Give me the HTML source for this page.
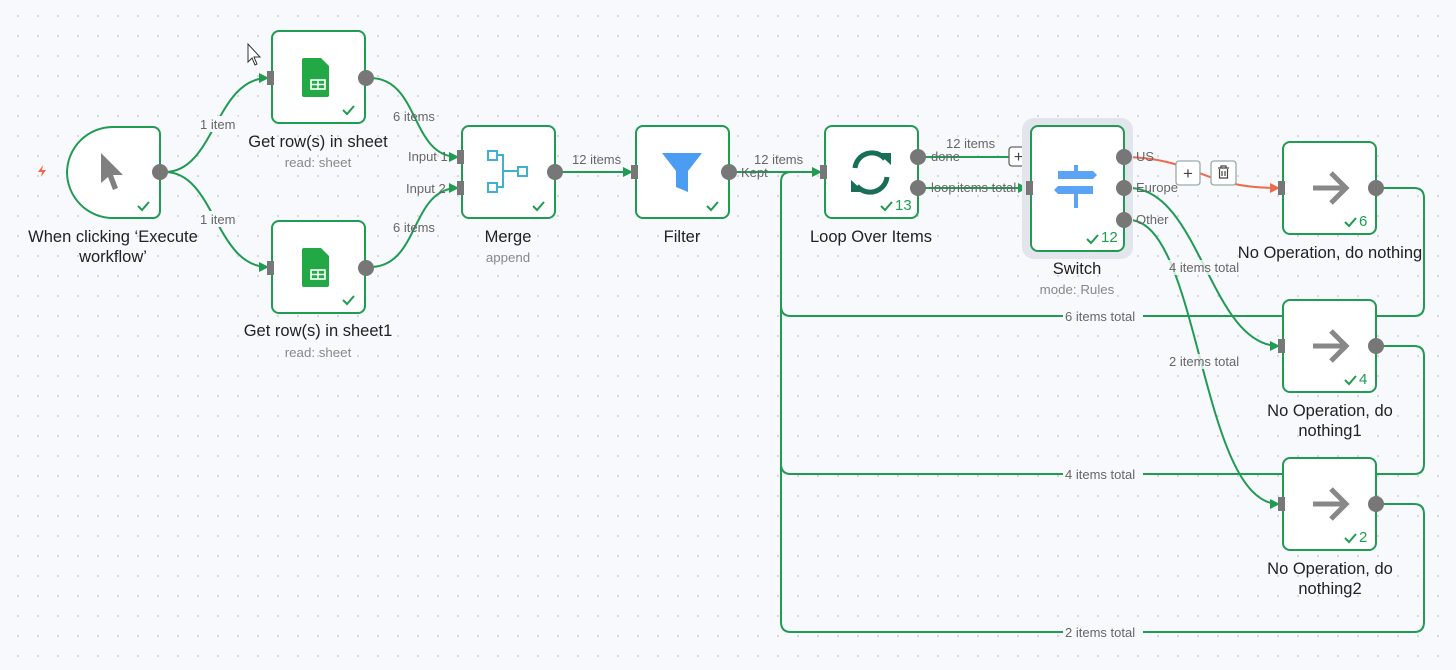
<!DOCTYPE html>
<html><head><meta charset="utf-8"><style>
html,body{margin:0;padding:0;}
body{width:1456px;height:670px;overflow:hidden;background:#f8f9fc;background-image:radial-gradient(circle,#d4d6de 1px,transparent 1.2px);background-size:20px 20px;background-position:8px 6px;font-family:"Liberation Sans",sans-serif;}
svg{position:absolute;left:0;top:0}
.nl{font-size:16.5px;fill:#222;text-anchor:middle}
.sl{font-size:13.3px;fill:#888;text-anchor:middle}
.el{font-size:13px;fill:#666;}
.e{fill:none;stroke:#1f9b52;stroke-width:2}
.box{fill:#fff;stroke:#1f9b52;stroke-width:2}
.port{fill:#777}
.ck{fill:none;stroke:#1f9b52;stroke-width:2}
.cnt{font-size:15px;fill:#1f9b52}
</style></head><body>
<svg width="1456" height="670" viewBox="0 0 1456 670">
<defs>
<marker id="ag" viewBox="0 0 10 10" refX="9" refY="5" markerWidth="10" markerHeight="10" markerUnits="userSpaceOnUse" orient="auto"><path d="M0,0 L10,5 L0,10z" fill="#1f9b52"/></marker>
<marker id="ar" viewBox="0 0 10 10" refX="9" refY="5" markerWidth="10" markerHeight="10" markerUnits="userSpaceOnUse" orient="auto"><path d="M0,0 L10,5 L0,10z" fill="#ee6a4c"/></marker>
</defs>
<path class="e" d="M165,172 C215,172 215,78 268,78" marker-end="url(#ag)"/>
<path class="e" d="M165,172 C215,172 215,267 268,267" marker-end="url(#ag)"/>
<path class="e" d="M370,78 C420,78 410,157 458,157" marker-end="url(#ag)"/>
<path class="e" d="M370,267 C420,267 410,188 458,188" marker-end="url(#ag)"/>
<path class="e" d="M560,172 L632,172" marker-end="url(#ag)"/>
<path class="e" d="M734,172 L821,172" marker-end="url(#ag)"/>
<path class="e" d="M923,157 L1010,157"/>
<path class="e" d="M923,188 L1027,188" marker-end="url(#ag)"/>
<path d="M1129,157 C1200,160 1200,188 1279,188" fill="none" stroke="#ee6a4c" stroke-width="2" marker-end="url(#ar)"/>
<path class="e" d="M1129,188 C1200,188 1210,346 1279,346" marker-end="url(#ag)"/>
<path class="e" d="M1129,220 C1200,220 1200,504 1279,504" marker-end="url(#ag)"/>
<path class="e" d="M1381,188 L1414,188 Q1424,188 1424,198 L1424,306 Q1424,316 1414,316 L791,316 Q781,316 781,306 L781,182 Q781,172 791,172"/>
<path class="e" d="M1381,346 L1414,346 Q1424,346 1424,356 L1424,464 Q1424,474 1414,474 L791,474 Q781,474 781,464 L781,300"/>
<path class="e" d="M1381,504 L1414,504 Q1424,504 1424,514 L1424,622 Q1424,632 1414,632 L791,632 Q781,632 781,622 L781,460"/>
<g class="el">
<rect x="198" y="116" width="40" height="16" fill="#f8f9fc"/><text x="200" y="129">1 item</text>
<rect x="198" y="211" width="40" height="16" fill="#f8f9fc"/><text x="200" y="224">1 item</text>
<text x="393" y="121">6 items</text><text x="393" y="232">6 items</text>
<text x="408" y="161">Input 1</text><text x="406" y="193">Input 2</text>
<text x="572" y="164">12 items</text><text x="754" y="164">12 items</text>
<text x="741" y="177">Kept</text>
<text x="946" y="148">12 items</text>
<text x="931" y="161">done</text><text x="931" y="192">loop</text><text x="957" y="192">items total</text>
<text x="1136" y="161">US</text><text x="1136" y="192">Europe</text><text x="1136" y="224">Other</text>
<rect x="1167" y="260" width="80" height="15" fill="#f8f9fc" opacity=".8"/><text x="1169" y="272">4 items total</text>
<rect x="1167" y="354" width="80" height="15" fill="#f8f9fc" opacity=".8"/><text x="1169" y="366">2 items total</text>
<rect x="1063" y="309" width="80" height="15" fill="#f8f9fc"/><text x="1065" y="321">6 items total</text>
<rect x="1063" y="467" width="80" height="15" fill="#f8f9fc"/><text x="1065" y="479">4 items total</text>
<rect x="1063" y="625" width="80" height="15" fill="#f8f9fc"/><text x="1065" y="637">2 items total</text>
</g>
<rect x="1009" y="147" width="19" height="19" rx="3" fill="#fff" stroke="#666" stroke-width="1.3"/><text x="1018.5" y="162" font-size="16" fill="#444" text-anchor="middle">+</text>
<rect x="1176" y="161" width="24" height="24" rx="3" fill="#fff" stroke="#9aa" stroke-width="1.3"/><text x="1188" y="179" font-size="17" fill="#444" text-anchor="middle">+</text>
<rect x="1211" y="161" width="25" height="24" rx="3" fill="#fff" stroke="#9aa" stroke-width="1.3"/>
<path d="M1218,168 h11 M1221,168 v-2 h5 v2 M1219.5,169 v9 h8 v-9 M1222,171 v5 M1225,171 v5" fill="none" stroke="#444" stroke-width="1.2"/>
<path d="M38,172 l5,-7 l-1,5 l4,0 l-5,7 l1,-5z" fill="#ee6a4c"/>
<path class="box" d="M113,127 H153 a7,7 0 0 1 7,7 V211 a7,7 0 0 1 -7,7 H113 a46,46 0 0 1 -46,-46 V173 a46,46 0 0 1 46,-46z"/>
<path d="M101,153 L101,183 L108,177 L113,190 L118,188 L113,175 L123,175z" fill="#808080"/>
<path class="ck" d="M138,206 l4,4 l7,-8"/>
<circle class="port" cx="160" cy="172" r="8"/>
<text class="nl" x="113" y="242">When clicking ‘Execute</text><text class="nl" x="113" y="262">workflow’</text>
<g>
<rect class="box" x="272" y="31" width="93" height="92" rx="7"/>
<path d="M304,58 h17 l8,8 v29 a2,2 0 0 1 -2,2 h-23 a2,2 0 0 1 -2,-2 v-35 a2,2 0 0 1 2,-2z" fill="#23a846"/>
<rect x="311" y="80" width="14" height="9" fill="none" stroke="#fff" stroke-width="1.6"/><path d="M311,84.5 h14 M318,80 v9" stroke="#fff" stroke-width="1.4"/>
<path class="ck" d="M343,110 l4,4 l7,-8"/>
<rect x="267" y="71" width="7" height="14" fill="#777"/><circle class="port" cx="366" cy="78" r="8"/>
<text class="nl" x="318" y="147">Get row(s) in sheet</text><text class="sl" x="318" y="167">read: sheet</text>
</g>
<g transform="translate(0,190)">
<rect class="box" x="272" y="31" width="93" height="92" rx="7"/>
<path d="M304,58 h17 l8,8 v29 a2,2 0 0 1 -2,2 h-23 a2,2 0 0 1 -2,-2 v-35 a2,2 0 0 1 2,-2z" fill="#23a846"/>
<rect x="311" y="80" width="14" height="9" fill="none" stroke="#fff" stroke-width="1.6"/><path d="M311,84.5 h14 M318,80 v9" stroke="#fff" stroke-width="1.4"/>
<path class="ck" d="M343,110 l4,4 l7,-8"/>
<rect x="267" y="71" width="7" height="14" fill="#777"/><circle class="port" cx="366" cy="78" r="8"/>
<text class="nl" x="318" y="146">Get row(s) in sheet1</text><text class="sl" x="318" y="167">read: sheet</text>
</g>
<rect class="box" x="462" y="126" width="93" height="92" rx="7"/>
<g fill="none" stroke="#3fb1cc" stroke-width="2"><rect x="488" y="151" width="9" height="9"/><rect x="488" y="183" width="9" height="9"/><rect x="518" y="167" width="9" height="9"/><path d="M497,155 h6 v16 h15 M497,187 h6 v-16"/></g>
<path class="ck" d="M533,206 l4,4 l7,-8"/>
<rect x="457" y="150" width="7" height="14" fill="#777"/><rect x="457" y="181" width="7" height="14" fill="#777"/><circle class="port" cx="555" cy="172" r="8"/>
<text class="nl" x="508" y="242">Merge</text><text class="sl" x="508" y="262">append</text>
<rect class="box" x="636" y="126" width="93" height="92" rx="7"/>
<path d="M662,153 h40 l-14,18 v21 l-12,-5 v-16z" fill="#4a9df2"/>
<path class="ck" d="M707,206 l4,4 l7,-8"/>
<rect x="631" y="165" width="7" height="14" fill="#777"/><circle class="port" cx="729" cy="172" r="8"/>
<text class="nl" x="682" y="242">Filter</text>
<rect class="box" x="825" y="126" width="93" height="92" rx="7"/>
<g fill="none" stroke="#186e56" stroke-width="5"><path d="M855,168 a17,17 0 0 1 30,-9"/><path d="M887,177 a17,17 0 0 1 -30,9"/></g>
<path d="M878,153 l13,0 l0,12z" fill="#186e56"/><path d="M864,192 l-13,0 l0,-12z" fill="#186e56"/>
<path class="ck" d="M881,206 l4,4 l7,-8"/><text class="cnt" x="895" y="210">13</text>
<rect x="820" y="165" width="7" height="14" fill="#777"/><circle class="port" cx="918" cy="157" r="8"/><circle class="port" cx="918" cy="188" r="8"/>
<text class="nl" x="871" y="242">Loop Over Items</text>
<rect x="1022" y="118" width="111" height="141" rx="12" fill="#e2e5ec"/>
<rect class="box" x="1031" y="126" width="93" height="125" rx="7"/>
<g fill="#5aa3f5"><path d="M1058,171 h35 l4,4 l-4,4 h-35z"/><path d="M1093,186 h-35 l-4,4 l4,4 h35z"/><rect x="1074" y="165" width="4" height="6"/><rect x="1074" y="194" width="4" height="14"/></g>
<path class="ck" d="M1087,239 l4,4 l7,-8"/><text class="cnt" x="1101" y="242">12</text>
<rect x="1026" y="181" width="7" height="14" fill="#777"/>
<circle class="port" cx="1124" cy="157" r="8"/><circle class="port" cx="1124" cy="188" r="8"/><circle class="port" cx="1124" cy="220" r="8"/>
<text class="nl" x="1077" y="274">Switch</text><text class="sl" x="1077" y="294">mode: Rules</text>
<g>
<rect class="box" x="1283" y="142" width="93" height="92" rx="7"/>
<path d="M1313,188 h32 M1331,173 l15,15 l-15,15" fill="none" stroke="#888" stroke-width="5"/>
<path class="ck" d="M1345,222 l4,4 l7,-8"/><text class="cnt" x="1359" y="226">6</text>
<rect x="1278" y="181" width="7" height="14" fill="#777"/><circle class="port" cx="1376" cy="188" r="8"/>
<text class="nl" x="1330" y="258">No Operation, do nothing</text>
</g>
<g>
<rect class="box" x="1283" y="300" width="93" height="92" rx="7"/>
<path d="M1313,346 h32 M1331,331 l15,15 l-15,15" fill="none" stroke="#888" stroke-width="5"/>
<path class="ck" d="M1345,380 l4,4 l7,-8"/><text class="cnt" x="1359" y="384">4</text>
<rect x="1278" y="339" width="7" height="14" fill="#777"/><circle class="port" cx="1376" cy="346" r="8"/>
<text class="nl" x="1330" y="416">No Operation, do</text><text class="nl" x="1330" y="436">nothing1</text>
</g>
<g>
<rect class="box" x="1283" y="458" width="93" height="92" rx="7"/>
<path d="M1313,504 h32 M1331,489 l15,15 l-15,15" fill="none" stroke="#888" stroke-width="5"/>
<path class="ck" d="M1345,538 l4,4 l7,-8"/><text class="cnt" x="1359" y="542">2</text>
<rect x="1278" y="497" width="7" height="14" fill="#777"/><circle class="port" cx="1376" cy="504" r="8"/>
<text class="nl" x="1330" y="574">No Operation, do</text><text class="nl" x="1330" y="594">nothing2</text>
</g>
<path d="M248,44 L248,62 L252,58 L255,65 L257,64 L254,57 L260,57z" fill="#fff" stroke="#333" stroke-width="1"/>
</svg>
</body></html>
